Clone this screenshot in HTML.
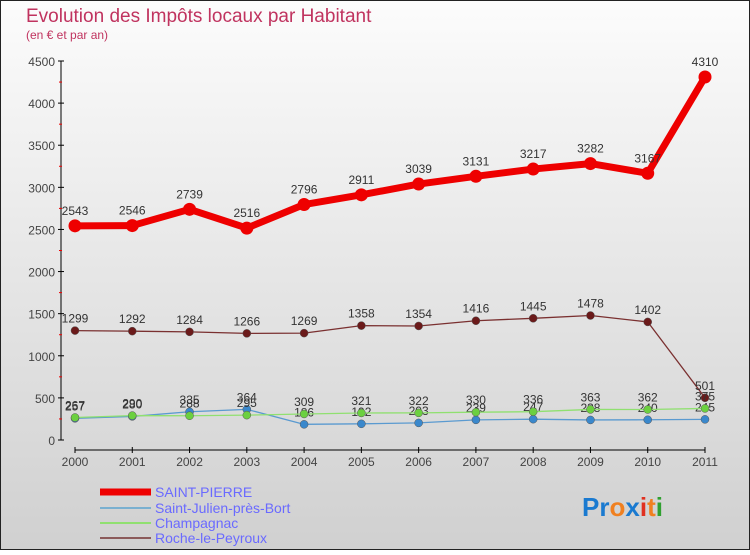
<!DOCTYPE html>
<html><head><meta charset="utf-8"><style>
body{margin:0}
#c{width:750px;height:550px;position:relative;font-family:"Liberation Sans",sans-serif}
</style></head><body>
<div id="c">
<svg id="s" width="750" height="550" xmlns="http://www.w3.org/2000/svg">
<defs><linearGradient id="bg" x1="0" y1="0" x2="0" y2="1"><stop offset="0" stop-color="#fcfcfc"/><stop offset="1" stop-color="#d0d0d0"/></linearGradient></defs>
<rect x="0.5" y="0.5" width="749" height="549" fill="url(#bg)" stroke="#222"/>
<text x="26" y="22" font-size="19" fill="#c0335f">Evolution des Impôts locaux par Habitant</text>
<text x="26" y="39" font-size="12" fill="#c0335f">(en € et par an)</text>
<g id="axes"></g><g id="plot"></g>
<g>
<line x1="100" y1="492" x2="151" y2="492" stroke="#e00" stroke-width="7"/>
<text x="155" y="497" font-size="14" fill="#6a6aff">SAINT-PIERRE</text>
<line x1="100" y1="508" x2="151" y2="508" stroke="#7ab0d0" stroke-width="2"/>
<text x="155" y="513" font-size="14" fill="#6a6aff">Saint-Julien-près-Bort</text>
<line x1="100" y1="523" x2="151" y2="523" stroke="#90e070" stroke-width="2"/>
<text x="155" y="528" font-size="14" fill="#6a6aff">Champagnac</text>
<line x1="100" y1="538" x2="151" y2="538" stroke="#8b5a5a" stroke-width="2"/>
<text x="155" y="543" font-size="14" fill="#6a6aff">Roche-le-Peyroux</text>
</g>
<text x="582" y="516" font-size="26" font-weight="bold"><tspan fill="#1a7ad0">Pr</tspan><tspan fill="#f08020">o</tspan><tspan fill="#1a7ad0">x</tspan><tspan fill="#e03020">i</tspan><tspan fill="#f08020">t</tspan><tspan fill="#30a030">i</tspan></text>
</svg></div>
<script>
const years=[2000,2001,2002,2003,2004,2005,2006,2007,2008,2009,2010,2011];
const saintPierre=[2543,2546,2739,2516,2796,2911,3039,3131,3217,3282,3167,4310];
const saintJulien=[257,280,335,364,186,192,203,239,247,238,240,245];
const champagnac=[267,290,288,295,309,321,322,330,336,363,362,375];
const roche=[1299,1292,1284,1266,1269,1358,1354,1416,1445,1478,1402,501];
const yTicks=[0,500,1000,1500,2000,2500,3000,3500,4000,4500];
const NS="http://www.w3.org/2000/svg";
const X=i=>75+i*(705-75)/(years.length-1);
const Y=v=>440-v*(379/4500);
function mk(t,a,p){const e=document.createElementNS(NS,t);for(const k in a)e.setAttribute(k,a[k]);p.appendChild(e);return e;}
const ax=document.getElementById('axes'),pl=document.getElementById('plot');
let yl=mk('line',{x1:61,y1:Y(4500),x2:61,y2:440,stroke:'#000'},ax);


yTicks.forEach(v=>{
 mk('line',{x1:58,y1:Y(v),x2:64,y2:Y(v),stroke:'#000'},ax);
 if(v<4500)mk('line',{x1:59,y1:Y(v+250),x2:62,y2:Y(v+250),stroke:'#e00'},ax);
 const t=mk('text',{x:55,y:Y(v)+5,'font-size':12,fill:'#444','text-anchor':'end'},ax);t.textContent=v;
 
 
});
let xl=mk('line',{x1:75,y1:450,x2:705,y2:450,stroke:'#000'},ax);


years.forEach((y,i)=>{
 mk('line',{x1:X(i),y1:447,x2:X(i),y2:453,stroke:'#000'},ax);
 const t=mk('text',{x:X(i),y:466,'font-size':12,fill:'#444','text-anchor':'middle'},ax);t.textContent=y;
 
 
});
function series(d,col,w,r,dot,name){
 const g=mk('g',{},pl);
 
 
 mk('polyline',{points:d.map((v,i)=>X(i)+','+Y(v)).join(' '),fill:'none',stroke:col,'stroke-width':w,'stroke-linejoin':'round'},g);
 d.forEach((v,i)=>{
  const c=mk('circle',{cx:X(i),cy:Y(v),r:r,fill:dot,stroke:w>3?'none':'#555','stroke-width':0.5},g);
  
  
  const t=mk('text',{x:X(i),y:Y(v)-(w>3?11:8),'font-size':12,fill:'#333','text-anchor':'middle'},g);t.textContent=v;
  
  
 });
}
series(roche,'#7a3030',1.3,4,'#6b1a1a','roche-le-peyroux-series');
series(saintJulien,'#5a9ad0',1.3,4,'#3a88cc','saint-julien-series');
series(champagnac,'#90e070',1.3,4,'#6cd040','champagnac-series');
series(saintPierre,'#ee0000',7,6.5,'#ee0000','saint-pierre-series');
</script>
</body></html>
